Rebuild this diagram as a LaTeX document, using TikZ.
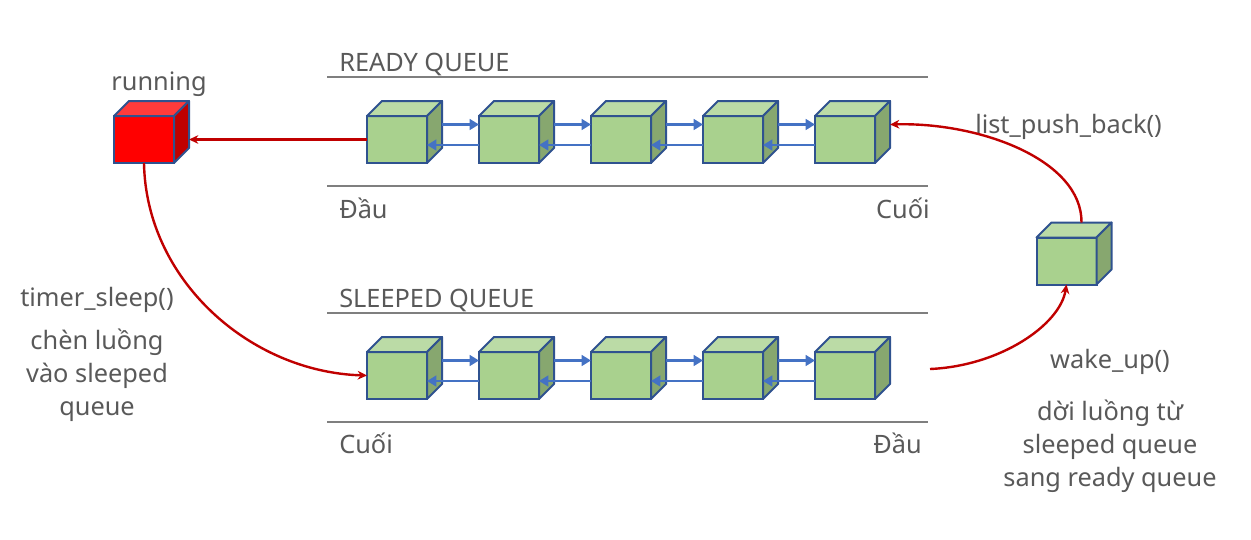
\documentclass[tikz,border=0pt]{standalone}
\usepackage{fontspec}
\setmainfont{Noto Sans}
\usetikzlibrary{arrows.meta,calc}
\definecolor{txt}{HTML}{595959}
\definecolor{rule}{HTML}{7F7F7F}
\definecolor{edge}{HTML}{2F528F}
\definecolor{gfront}{HTML}{A9D18E}
\definecolor{gtop}{HTML}{BBDBA6}
\definecolor{gside}{HTML}{87A76F}
\definecolor{rfront}{HTML}{FF0000}
\definecolor{rtop}{HTML}{FF3B3B}
\definecolor{rside}{HTML}{C00000}
\definecolor{darkred}{HTML}{C00000}
\definecolor{blueln}{HTML}{4472C4}
\newcommand\qcube[6]{%
  \node[cubeface, fill=#4] (#1) at (#2,#3) {};
  \draw[cubeline, fill=#5] (#1.north west) -- ++(15,-15) -- ++(60,0) -- (#1.north east) -- cycle;
  \draw[cubeline, fill=#6] (#1.north east) -- ++(15,-15) -- ++(0,47) -- (#1.south east) -- cycle;
  \coordinate (#1-back) at ($(#1.east)+(15,-15)$);
  \coordinate (#1-topback) at ($(#1.north)+(15,-15)$);
}
\begin{document}
\begin{tikzpicture}[x=0.75pt,y=-0.75pt,
  cubeface/.style={rectangle, draw=edge, line width=1.5pt, minimum width=45pt, minimum height=35.25pt, inner sep=0pt, outer sep=0pt},
  cubeline/.style={draw=edge, line width=1.5pt, line join=round},
  qrule/.style={draw=rule, line width=1.6pt},
  lbl/.style={text=txt, font=\fontsize{19}{24.75}\selectfont, inner sep=0pt},
  blk/.style={lbl, align=center},
  bluearrow/.style={draw=blueln, line width=2.2pt, -{Triangle[length=7pt,width=8pt]}},
  redarrow/.style={draw=darkred, line width=1.8pt, -{Stealth[length=7pt,width=6.5pt]}}
]
\useasboundingbox (0,0) rectangle (1251,539);

% queue rules
\draw[qrule] (327,77) coordinate (rt1) -- (928,77) coordinate (rt2);
\draw[qrule] (327,186) coordinate (rb1) -- (928,186) coordinate (rb2);
\draw[qrule] (327,313) coordinate (st1) -- (928,313) coordinate (st2);
\draw[qrule] (327,422) coordinate (sb1) -- (928,422) coordinate (sb2);

% labels
\node[lbl, anchor=base west] (lready) at (339,71) {READY QUEUE};
\node[lbl, anchor=base west] (lsleep) at (339,307) {SLEEPED QUEUE};
\node[lbl, anchor=base west] (rhead) at (339,218) {Đầu};
\node[lbl, anchor=base east] (rtail) at (930,218) {Cuối};
\node[lbl, anchor=base west] (stail) at (339,453) {Cuối};
\node[lbl, anchor=base east] (shead) at (922,453) {Đầu};
\node[lbl, anchor=base] (lrun) at (159,90) {running};
\node[lbl, anchor=base] (ltimer) at (97,306) {timer\_sleep()};
\node[blk, anchor=base] (ltimerd) at (97,415) {chèn luồng\\vào sleeped\\queue};
\node[lbl, anchor=base west] (lpush) at (975,133) {list\_push\_back()};
\node[lbl, anchor=base] (lwake) at (1110,368) {wake\_up()};
\node[blk, anchor=base] (lwaked) at (1110,486) {dời luồng từ\\sleeped queue\\sang ready queue};

% cubes
\qcube{run}{144}{139.5}{rfront}{rtop}{rside}
\foreach \i/\x in {1/397,2/509,3/621,4/733,5/845}{
  \qcube{r\i}{\x}{139.5}{gfront}{gtop}{gside}
  \qcube{s\i}{\x}{375.5}{gfront}{gtop}{gside}
}
\qcube{w}{1066.5}{261}{gfront}{gtop}{gside}

% links
\foreach \i/\j in {1/2,2/3,3/4,4/5}{
  \draw[bluearrow] (r\i-back) -- (r\i-back -| r\j.west);
  \draw[bluearrow] ($(r\j.west)+(0,5.5)$) -- ($(r\i.east)+(0,5.5)$);
  \draw[bluearrow] (s\i-back) -- (s\i-back -| s\j.west);
  \draw[bluearrow] ($(s\j.west)+(0,5.5)$) -- ($(s\i.east)+(0,5.5)$);
}

% red flows
\draw[redarrow] (r1.west) -- (r1.west -| run-back);
\draw[redarrow] (run.south) .. controls (146,280) and (250,372) .. (s1.west);
\draw[redarrow] (w-topback) .. controls (1082,160) and (980,122) .. (r5-back);
\coordinate (wstart) at (930,369);
\draw[redarrow] (wstart) .. controls (1000,366) and (1060,325) .. (w.south);
\end{tikzpicture}
\end{document}
